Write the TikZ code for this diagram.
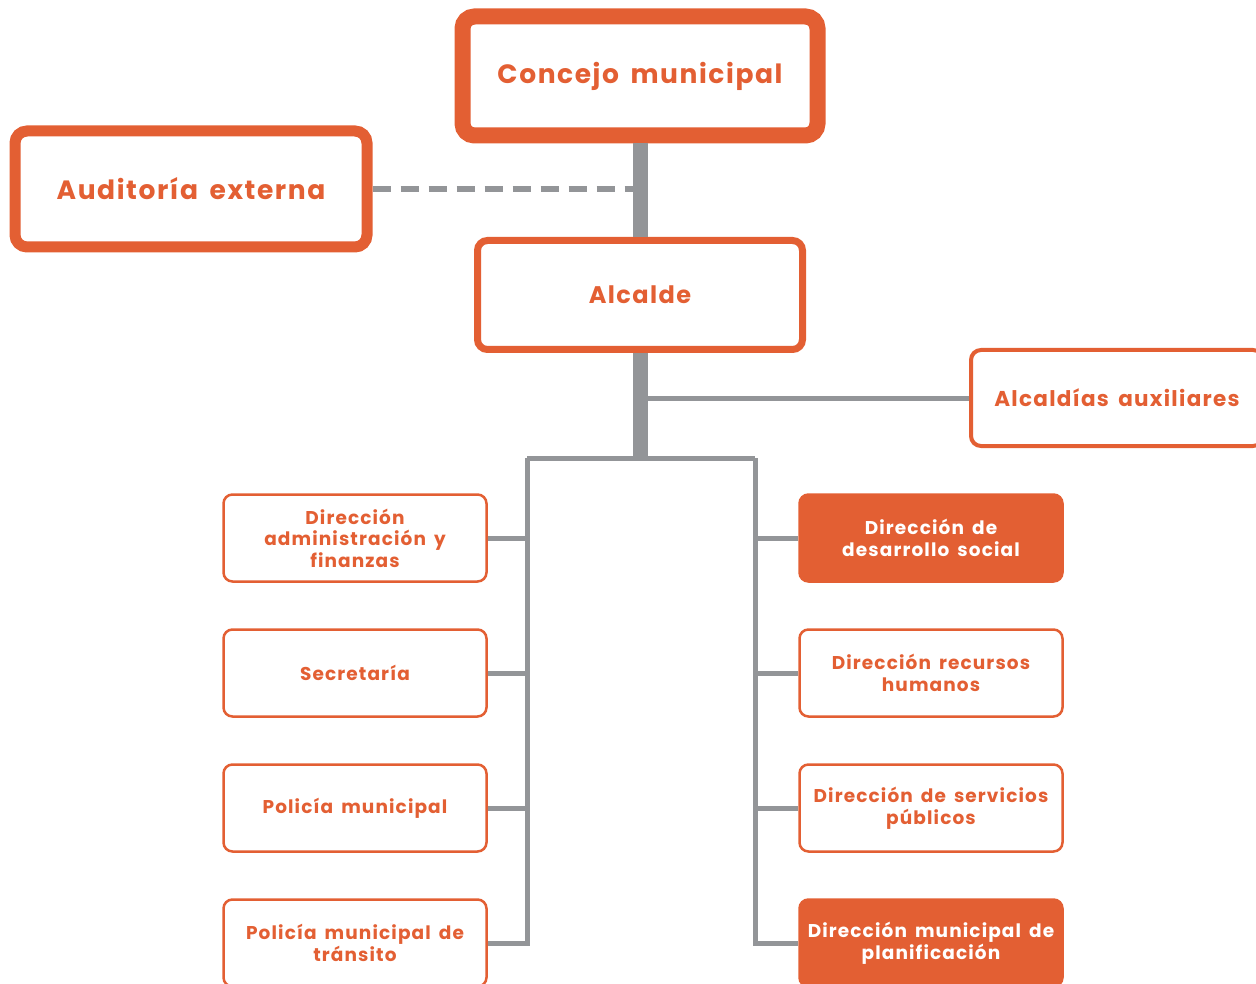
\documentclass[tikz,border=0pt]{standalone}
\usepackage{fontspec}
\setmainfont{Poppins}[LetterSpace=6, WordSpace=1.6]
\definecolor{naranja}{HTML}{E35F33}
\definecolor{gris}{HTML}{939598}

\begin{document}
\begin{tikzpicture}[x=1pt, y=-1pt,
                every node/.style={rectangle, align=center, text=naranja, font=\bfseries, inner sep=0pt},
                cabeza/.style={draw=naranja, fill=white, line width=16pt, rounded corners=12pt, minimum width=355pt, minimum height=119pt, font=\fontsize{26.5}{30}\bfseries},
                lateral/.style={draw=naranja, fill=white, line width=11pt, rounded corners=12pt, minimum width=352pt, minimum height=116pt, font=\fontsize{26.5}{30}\bfseries},
                jefe/.style={draw=naranja, fill=white, line width=7pt, rounded corners=10pt, minimum width=325pt, minimum height=109pt, font=\fontsize{24}{28}\bfseries},
                aux/.style={draw=naranja, fill=white, line width=4pt, rounded corners=10pt, minimum width=292pt, minimum height=96pt, font=\fontsize{21.5}{26}\bfseries},
                depto/.style={draw=naranja, fill=white, line width=2.5pt, rounded corners=9pt, minimum width=263pt, minimum height=87pt, font=\fontsize{18.5}{21.5}\bfseries},
                resaltado/.style={depto, fill=naranja, text=white},
                linea/.style={draw=gris, line width=5pt},
                tronco/.style={draw=gris, line width=15pt}
            ]
                \useasboundingbox (0,0) rectangle (1256,984);

                % cuerpos de gobierno
                \node[cabeza] (concejo) at (640,76) {Concejo municipal};
                \node[lateral] (auditoria) at (191,189) {Auditoría externa};
                \node[jefe] (alcalde) at (640,295) {Alcalde};
                \node[aux] (auxiliares) at (1117,398) {Alcaldías auxiliares};

                % direcciones
                \node[depto] (finanzas) at (355,538) {Dirección\\administración y\\finanzas};
                \node[depto] (secretaria) at (355,673) {Secretaría};
                \node[depto] (policia) at (355,808) {Policía municipal};
                \node[depto] (transito) at (355,943) {Policía municipal de\\tránsito};
                \node[resaltado] (social) at (931,538) {Dirección de\\desarrollo social};
                \node[depto] (rrhh) at (931,673) {Dirección recursos\\humanos};
                \node[depto] (servicios) at (931,808) {Dirección de servicios\\públicos};
                \node[resaltado] (planificacion) at (931,943) {Dirección municipal de\\planificación};

                \coordinate (reparto) at (640,458);
                \coordinate (izq) at (527,458);
                \coordinate (der) at (755,458);

                % conectores
                \draw[gris, line width=6pt, dash pattern=on 18pt off 10pt] (auditoria.east) -- (auditoria.east -| concejo.south);
                \draw[tronco] (concejo.south) -- (alcalde.north);
                \draw[linea] (alcalde.south |- auxiliares.west) -- (auxiliares.west);
                \draw[tronco] (alcalde.south) -- (reparto);
                \draw[linea] (izq) -- (der);
                \draw[linea] (izq) |- (transito.east);
                \draw[linea] (der) |- (planificacion.west);
                \foreach \n in {finanzas, secretaria, policia}
                    \draw[linea] (\n.east) -- (\n.east -| izq);
                \foreach \n in {social, rrhh, servicios}
                    \draw[linea] (\n.west) -- (\n.west -| der);
            \end{tikzpicture}
\end{document}
